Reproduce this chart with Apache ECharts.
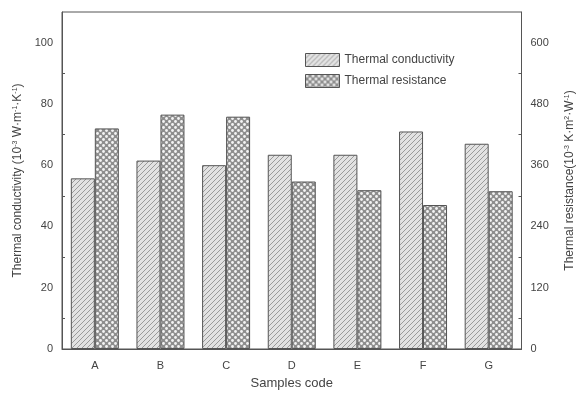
<!DOCTYPE html>
<html><head><meta charset="utf-8">
<script src="https://cdn.jsdelivr.net/npm/echarts@6/dist/echarts.min.js"></script>
<style>html,body{margin:0;padding:0;background:#fff}#c{width:584px;height:395px}</style>
</head><body><div id="c"></div>
<script>
const categories = ['A','B','C','D','E','F','G'];
const conductivity = [55.7, 61.5, 60.0, 63.4, 63.4, 71.0, 67.0];
const resistance = [432, 459, 455, 328, 311, 282, 309];
const leftTicks = [0,20,40,60,80,100];
const rightTicks = [0,120,240,360,480,600];

function hatch(){
  const c=document.createElement('canvas');c.width=5;c.height=5;
  const g=c.getContext('2d');
  g.fillStyle='#e2e2e2';g.fillRect(0,0,5,5);
  g.strokeStyle='#9a9a9a';g.lineWidth=1;
  g.beginPath();g.moveTo(-1,6);g.lineTo(6,-1);g.stroke();
  g.beginPath();g.moveTo(-1,1);g.lineTo(1,-1);g.stroke();
  g.beginPath();g.moveTo(4,6);g.lineTo(6,4);g.stroke();
  return c;
}
function checks(){
  const c=document.createElement('canvas');c.width=6;c.height=6;
  const g=c.getContext('2d');
  g.fillStyle='#8e8e8e';g.fillRect(0,0,6,6);
  g.fillStyle='#f4f4f4';
  [[1.5,1.5],[4.5,4.5]].forEach(p=>{g.beginPath();g.arc(p[0],p[1],1.4,0,Math.PI*2);g.fill();});
  return c;
}
const chart=echarts.init(document.getElementById('c'));
const txt='#444';
const font='Liberation Sans';
const rich={
  n:{fontSize:12,color:txt,fontFamily:font},
  s:{fontSize:7,color:txt,fontFamily:font,verticalAlign:'top',padding:[0,0,6,0]}
};
chart.setOption({
  animation:false,
  textStyle:{fontFamily:font},
  grid:{left:62,right:54,top:12,bottom:38,show:true,borderColor:'#555',borderWidth:1,containLabel:false},
  legend:{
    data:['Thermal conductivity','Thermal resistance'],
    orient:'vertical',left:300,top:48,itemWidth:34,itemGap:7,itemHeight:13,icon:'rect',
    textStyle:{fontSize:12,color:txt,fontFamily:font},
    itemStyle:{borderColor:'#555',borderWidth:1}
  },
  xAxis:{
    type:'category',data:categories,
    axisLine:{lineStyle:{color:'#555'}},
    axisTick:{show:false},
    axisLabel:{color:txt,fontSize:11,margin:11},
    name:'Samples code',nameLocation:'middle',nameGap:28,
    nameTextStyle:{color:txt,fontSize:13}
  },
  yAxis:[{
    type:'value',min:0,max:110,interval:20,
    axisLine:{show:true,lineStyle:{color:'#555'}},
    axisTick:{inside:true,length:4,lineStyle:{color:'#555'}},
    minorTick:{show:true,splitNumber:2,length:3,lineStyle:{color:'#555'}},
    splitLine:{show:false},
    axisLabel:{color:txt,fontSize:11,margin:9,formatter:v=>leftTicks.includes(v)?String(v):''},
    name:'{n|Thermal conductivity (10}{s|-3}{n| W·m}{s|-1}{n|·K}{s|-1}{n|)}',
    nameLocation:'middle',nameGap:34,nameRotate:90,
    nameTextStyle:{rich:rich}
  },{
    type:'value',min:0,max:660,interval:120,position:'right',
    axisLine:{show:true,lineStyle:{color:'#555'}},
    axisTick:{inside:true,length:4,lineStyle:{color:'#555'}},
    minorTick:{show:true,splitNumber:2,length:3,lineStyle:{color:'#555'}},
    splitLine:{show:false},
    axisLabel:{color:txt,fontSize:11,margin:9,formatter:v=>rightTicks.includes(v)?String(v):''},
    name:'{n|Thermal resistance(10}{s|-3}{n| K·m}{s|2}{n|·W}{s|-1}{n|)}',
    nameLocation:'middle',nameGap:42,nameRotate:90,
    nameTextStyle:{rich:rich}
  }],
  series:[{
    name:'Thermal conductivity',type:'bar',yAxisIndex:0,data:conductivity,
    barWidth:24,barGap:'0%',
    itemStyle:{color:{image:hatch(),repeat:'repeat'},borderColor:'#555',borderWidth:1}
  },{
    name:'Thermal resistance',type:'bar',yAxisIndex:1,data:resistance,
    barWidth:24,barGap:'0%',
    itemStyle:{color:{image:checks(),repeat:'repeat'},borderColor:'#555',borderWidth:1}
  }]
});
</script></body></html>
